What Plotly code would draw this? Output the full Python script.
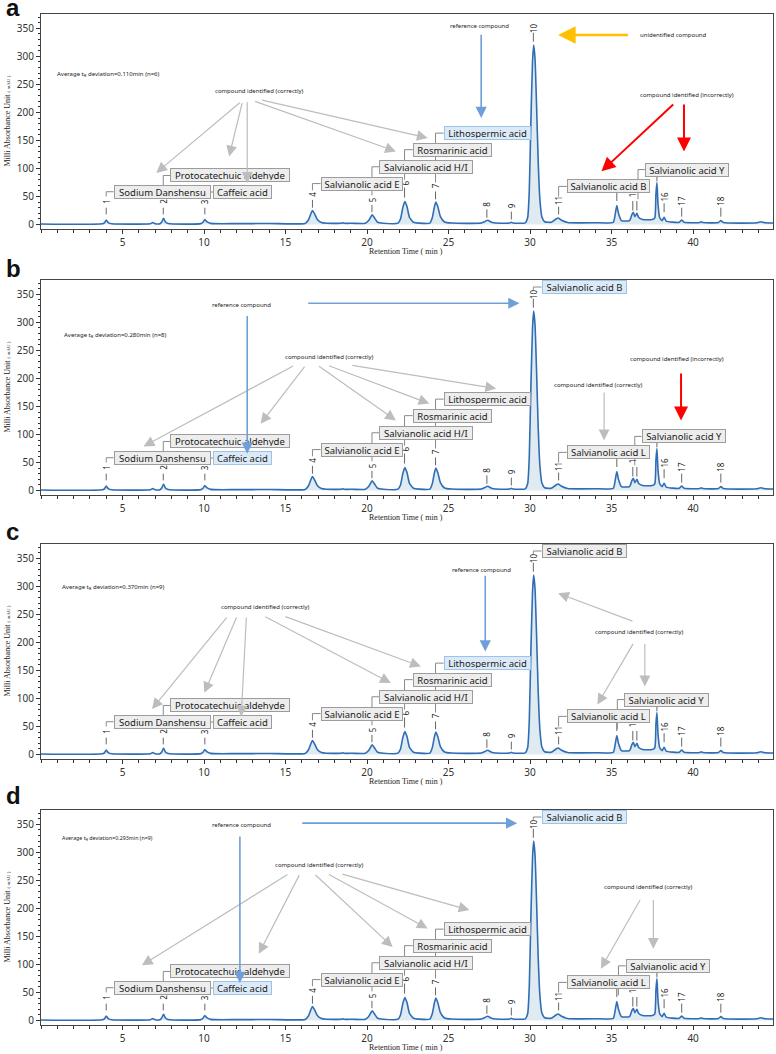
import plotly.graph_objects as go

# ---- chromatogram (retention time in min, absorbance in mAU)
rt = [0.0, 3.75, 3.9, 4.0, 4.12, 4.35,
      6.7, 6.85, 7.0, 7.3, 7.42, 7.52, 7.62, 7.8,
      9.8, 9.95, 10.05, 10.17, 10.4,
      12.0, 14.0, 16.2, 16.4, 16.55, 16.65, 16.78, 16.95, 17.2, 17.5,
      18.4, 18.5, 18.6, 19.1, 19.9, 20.1, 20.22, 20.32, 20.45, 20.65, 21.0,
      21.9, 22.05, 22.2, 22.32, 22.45, 22.6, 22.85, 23.2,
      23.85, 24.0, 24.12, 24.22, 24.35, 24.5, 24.75, 25.2,
      27.0, 27.2, 27.4, 27.6, 27.9, 28.75, 28.85, 28.95,
      29.7, 29.85, 29.95, 30.05, 30.15, 30.22, 30.3, 30.4, 30.5, 30.6, 30.72, 30.9,
      31.3, 31.55, 31.72, 31.9, 32.3, 34.0,
      35.1, 35.22, 35.32, 35.42, 35.6,
      36.1, 36.25, 36.33, 36.43, 36.55, 36.65, 36.9, 37.5,
      37.65, 37.72, 37.78, 37.85, 37.95, 38.1, 38.22, 38.35,
      39.15, 39.3, 39.45, 40.4, 40.5, 40.6,
      41.55, 41.7, 41.85, 43.9, 44.15, 44.4, 44.9]
mau = [1.0, 1.2, 3.5, 8.0, 3.5, 1.3,
       1.4, 3.5, 1.5, 1.5, 5.5, 11.0, 5.0, 1.8,
       1.6, 4.5, 9.0, 5.0, 2.0,
       1.6, 1.8, 2.0, 8.0, 19.0, 25.0, 19.0, 9.0, 3.5, 2.2,
       2.2, 3.2, 2.2, 2.2, 2.3, 7.0, 13.0, 17.5, 12.0, 4.0, 2.3,
       2.4, 10.0, 31.0, 41.0, 32.0, 13.0, 4.0, 2.5,
       2.5, 12.0, 30.0, 40.0, 31.0, 14.0, 4.5, 2.6,
       2.6, 5.0, 7.5, 4.5, 2.6, 2.6, 4.0, 2.6,
       3.0, 12.0, 60.0, 185.0, 290.0, 320.0, 297.0, 210.0, 110.0, 45.0, 14.0, 5.0,
       4.0, 9.0, 11.5, 8.0, 3.5, 3.2,
       4.0, 18.0, 34.0, 20.0, 7.0,
       7.0, 18.0, 22.0, 14.0, 20.0, 13.0, 9.0, 9.0,
       12.0, 55.0, 75.0, 35.0, 12.0, 7.0, 13.0, 6.0,
       4.0, 8.0, 4.0, 3.5, 5.0, 3.5,
       3.5, 7.0, 3.5, 3.0, 5.0, 3.0, 2.8]

peak_no = ["1", "2", "3", "4", "5", "6", "7", "8", "9", "10",
           "11", "12", "13", "14", "15", "16", "17", "18"]
peak_rt = [4.0, 7.5, 10.05, 16.65, 20.3, 22.3, 24.2, 27.35, 28.85, 30.2,
           31.75, 35.32, 36.3, 36.55, 37.78, 38.22, 39.3, 41.7]

x_ticks = [5, 10, 15, 20, 25, 30, 35, 40]
y_ticks = [0, 50, 100, 150, 200, 250, 300, 350]

panel_letters = ["a", "b", "c", "d"]
avg_dev = ["0.110", "0.280", "0.370", "0.293"]
n_ident = [6, 8, 9, 9]

# compounds shown in the label boxes of each panel
names_common = ["Sodium Danshensu", "Protocatechuic aldehyde", "Caffeic acid",
                "Salvianolic acid E", "Salvianolic acid H/I", "Rosmarinic acid",
                "Lithospermic acid"]
names_peak11 = ["Salvianolic acid B", "Salvianolic acid L", "Salvianolic acid L", "Salvianolic acid L"]
names_top = [None, "Salvianolic acid B", "Salvianolic acid B", "Salvianolic acid B"]
name_y = "Salvianolic acid Y"
reference = [["Lithospermic acid"], ["Caffeic acid", "Salvianolic acid B top"],
             ["Lithospermic acid"], ["Caffeic acid", "Salvianolic acid B top"]]

# ---- layout geometry (pixels of the 776x1054 page)
W, H = 776, 1054
X_RANGE = [0, 44.9]
Y_RANGE = [-8, 375.5]
PL, PR = 41, 773
TOPS = [14, 280, 544, 810]
PH = 215
LETTER_Y = [8, 268, 531, 795]
px_per_min = (PR - PL) / (X_RANGE[1] - X_RANGE[0])

# peak number labels: label centre, and the short tick line below it (mAU)
lab_y = [41, 41, 41, 54, 45, 74, 69, 37, 33, 351, 43, 68, 57, 68, 98, 50, 42, 42]
tick_top = [30, 30, 30, 44, 35, 66, 59, 27, 23, 342, 32, 57, 42, 42, 85, 38, 30, 30]
tick_bot = [18, 18, 18, 30, 22, 48, 45, 12, 9, 326, 18, 42, 25, 25, 77, 22, 14, 14]

# box slots: x0, x1, y centre, leader x, leader start y
slots_common = [(4.45, 10.4, 58.5, 4.0, 50), (7.93, 15.28, 87.5, 7.5, 48),
                (10.56, 14.17, 58, 10.05, 48), (17.15, 22.18, 73, 16.65, 61),
                (20.77, 26.52, 103, 20.3, 52), (22.8, 27.65, 133.5, 22.3, 80),
                (24.7, 30.05, 163, 24.2, 75)]
slot_11 = (32.25, 37.33, 68, 31.75, 50)
slot_top = (30.7, 35.92, 363, 30.2, 358)
slot_y = [(37.04, 42.21, 98, 36.62, 45), (36.84, 42.0, 96.5, 36.42, 45),
          (35.77, 40.98, 98, 35.35, 45), (35.87, 41.04, 97.5, 35.42, 45)]

G, B, O, R = "#BDBDBD", "#6F9FDB", "#FFC000", "#FF0000"
arrows = [
    [(12.28, 219.4, 7.07, 92, G), (12.36, 219.4, 11.54, 121.5, G), (12.65, 220.6, 12.65, 74.2, G),
     (13.04, 220.6, 21.77, 130.4, G), (13.47, 222.4, 23.72, 154.3, G),
     (27.0, 341, 27.0, 190, B), (36.1, 338, 31.72, 338, O),
     (38.87, 216.7, 34.38, 94.8, R), (39.44, 216.7, 39.44, 130.4, R)],
    [(15.56, 223.6, 6.29, 78.7, G), (16.24, 223.6, 13.47, 119, G), (16.96, 223.6, 21.77, 125, G),
     (17.57, 223.6, 23.82, 155, G), (19.0, 223.6, 27.92, 182, G), (34.54, 177.6, 34.54, 89.4, G),
     (12.65, 314, 12.65, 65.6, B), (16.3, 334, 29.35, 334, B), (39.26, 211.6, 39.26, 125, R)],
    [(11.46, 247, 6.81, 81, G), (12.03, 247, 10.02, 110, G), (12.6, 247, 12.28, 68, G),
     (13.67, 247, 21.46, 127.6, G), (14.9, 247, 23.3, 157, G), (36.37, 237, 31.72, 287.7, G),
     (36.37, 200, 34.13, 89, G), (37.04, 200, 37.04, 121.5, G), (27.25, 321.5, 27.25, 183.8, B)],
    [(15.21, 262, 6.19, 98.4, G), (15.89, 262, 13.36, 119, G), (16.75, 262, 21.57, 131, G),
     (17.57, 262, 23.72, 164, G), (18.39, 262, 26.28, 197, G), (36.8, 217.7, 34.34, 92.5, G),
     (37.56, 217.7, 37.56, 128, G), (12.2, 331, 12.2, 66.8, B), (15.93, 352, 29.21, 352, B)],
]
notes = [
    [("compound identified (correctly)", 13.4, 239), ("reference compound", 26.9, 354),
     ("unidentified compound", 38.8, 338), ("compound identified (incorrectly)", 39.64, 231)],
    [("compound identified (correctly)", 17.67, 238.5), ("compound identified (correctly)", 34.2, 189),
     ("reference compound", 12.32, 331), ("compound identified (incorrectly)", 39.02, 233.8)],
    [("compound identified (correctly)", 13.78, 262.8), ("reference compound", 27.0, 330),
     ("compound identified (correctly)", 36.74, 219.4)],
    [("reference compound", 12.29, 349), ("compound identified (correctly)", 17.1, 277),
     ("compound identified (correctly)", 37.27, 238.5)],
]
avg_pos = [(0.86, 269, 6), (1.27, 277, 6), (1.17, 298, 6), (1.17, 326, 5.3)]

fig = go.Figure()
shapes, annots = [], []

for i in range(4):
    sx = "" if i == 0 else str(i + 1)
    xr, yr = "x" + sx, "y" + sx
    top = TOPS[i]
    dom = [1 - (top + PH) / H, 1 - top / H]

    fig.add_trace(go.Scatter(x=rt, y=mau, mode="lines", xaxis=xr, yaxis=yr,
                             line=dict(color="#2F6DB5", width=1.6, shape="spline", smoothing=0.5),
                             fill="tozeroy", fillcolor="rgba(185,208,225,0.45)",
                             showlegend=False, hoverinfo="skip"))

    fig.layout["xaxis" + sx] = dict(domain=[PL / W, PR / W], range=X_RANGE, anchor=yr,
                                    automargin=False,
                                    tickvals=x_ticks, ticks="outside", ticklen=4,
                                    minor=dict(dtick=1, tick0=0, ticks="outside", ticklen=3, tickcolor="#333"),
                                    showline=True, linecolor="#444", mirror=True, tickcolor="#333",
                                    showgrid=False, zeroline=False,
                                    tickfont=dict(family="Noto Sans", size=10, color="#333"))
    fig.layout["yaxis" + sx] = dict(domain=dom, range=Y_RANGE, anchor=xr,
                                    automargin=False,
                                    tickvals=y_ticks, ticks="outside", ticklen=4,
                                    minor=dict(dtick=10, tick0=0, ticks="outside", ticklen=2, tickcolor="#333"),
                                    showline=True, linecolor="#444", mirror=True, tickcolor="#333",
                                    showgrid=False, zeroline=False,
                                    tickfont=dict(family="Noto Sans", size=10, color="#333"))

    # axis titles and panel letter
    annots.append(dict(xref="paper", yref="paper", x=7 / W, y=1 - (top + PH / 2) / H,
                       xanchor="center", yanchor="middle",
                       text="Milli Absorbance Unit <span style='font-size:5px'>( mAU )</span>",
                       textangle=-90, showarrow=False,
                       font=dict(family="Liberation Serif", size=8, color="#222")))
    annots.append(dict(xref="paper", yref="paper", x=406 / W, y=1 - (top + PH + 22) / H,
                       xanchor="center", yanchor="middle",
                       text="Retention Time ( min )", showarrow=False,
                       font=dict(family="Liberation Serif", size=8, color="#222")))
    annots.append(dict(xref="paper", yref="paper", x=4 / W, y=1 - LETTER_Y[i] / H,
                       xanchor="left", yanchor="middle", text="<b>" + panel_letters[i] + "</b>",
                       showarrow=False, font=dict(family="Liberation Sans", size=24, color="#111")))

    # peak numbers with their little tick lines
    for k in range(len(peak_no)):
        shapes.append(dict(type="line", xref=xr, yref=yr, x0=peak_rt[k], x1=peak_rt[k],
                           y0=tick_bot[k], y1=tick_top[k], line=dict(color="#666", width=1)))
        annots.append(dict(xref=xr, yref=yr, x=peak_rt[k], y=lab_y[k], text=peak_no[k],
                           textangle=-90, showarrow=False,
                           font=dict(family="Noto Sans", size=8, color="#222")))

    # compound boxes with bracket leaders
    boxes = list(zip(names_common, slots_common))
    boxes.append((names_peak11[i], slot_11))
    boxes.append((name_y, slot_y[i]))
    if names_top[i]:
        boxes.append((names_top[i] + " top", slot_top))
    for name, (x0, x1, yc, lx, ly) in boxes:
        shapes.append(dict(type="path", xref=xr, yref=yr,
                           path=f"M {lx},{ly} L {lx},{yc} L {x0},{yc}",
                           line=dict(color="#8A8A8A", width=1)))
    for name, (x0, x1, yc, lx, ly) in boxes:
        hl = name in reference[i]
        wpx = (x1 - x0) * px_per_min
        annots.append(dict(xref=xr, yref=yr, x=(x0 + x1) / 2, y=yc,
                           text=name.replace(" top", ""), showarrow=False,
                           width=wpx - 4, height=10, borderpad=1, borderwidth=1,
                           bgcolor="#DCEAF8" if hl else "#EDEDED",
                           bordercolor="#9EC3EA" if hl else "#9C9C9C",
                           font=dict(family="Noto Sans", size=9.5, color="#1A1A1A")))

    # free text and arrows
    ax_, ay_, fs = avg_pos[i]
    annots.append(dict(xref=xr, yref=yr, x=ax_, y=ay_, xanchor="left", showarrow=False,
                       text=f"Average t<sub>R</sub> deviation={avg_dev[i]}min (n={n_ident[i]})",
                       font=dict(family="Noto Sans", size=fs, color="#222")))
    for txt, tx, ty in notes[i]:
        annots.append(dict(xref=xr, yref=yr, x=tx, y=ty, text=txt, showarrow=False,
                           font=dict(family="Noto Sans", size=6, color="#222")))
    for tx0, ty0, hx, hy, col in arrows[i]:
        wid = {G: 1.2, B: 1.6, O: 2.5, R: 2.0}[col]
        annots.append(dict(xref=xr, yref=yr, axref=xr, ayref=yr, x=hx, y=hy, ax=tx0, ay=ty0,
                           text="", showarrow=True, arrowhead=2, arrowsize=1.8 if col == G else 1.4,
                           arrowwidth=wid, arrowcolor=col, standoff=0, startstandoff=0))

fig.update_layout(width=W, height=H, margin=dict(l=0, r=0, t=0, b=0, autoexpand=False),
                  paper_bgcolor="white", plot_bgcolor="white",
                  shapes=shapes, annotations=annots, showlegend=False)

# the page's default body margin would push the figure 8px right and down
fig.write_html("out.html", config={"displayModeBar": False},
               post_script="document.body.style.margin='0px';")
